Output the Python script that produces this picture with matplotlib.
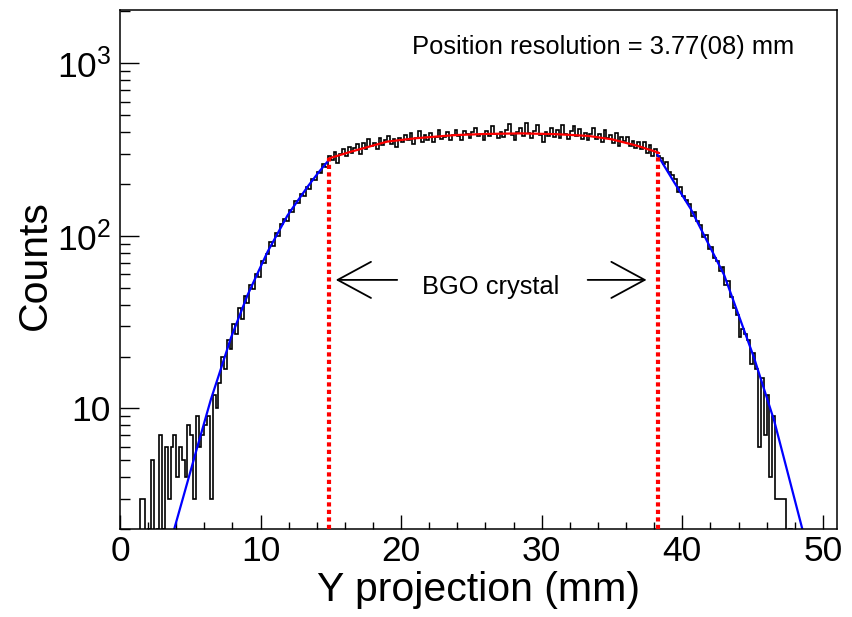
import numpy as np
import matplotlib
matplotlib.use('Agg')
import matplotlib.pyplot as plt
from matplotlib.ticker import FixedLocator, MultipleLocator, NullFormatter

plt.rcParams['font.family'] = ['Liberation Sans', 'DejaVu Sans']
plt.rcParams['mathtext.default'] = 'regular'

# histogram: 0.2 mm bins starting at 0 mm
bin_width = 0.2
x_start = 0.0

# bins 0 - 34 (0 - 7 mm), low statistics tail
tail_left = [0, 0, 0, 0, 0, 0, 1, 3, 3, 1, 2, 5, 1, 2, 7, 2, 6, 3, 6, 7,
             4, 6, 5, 4, 8, 7, 3, 9, 6, 7, 8, 9, 3, 12, 10]
# bins 35 - 74 (7 - 15 mm), rising edge
rise = [14, 20, 17, 25, 22, 31, 27, 38, 33, 45, 41, 52, 49, 60, 58, 72, 70, 79, 92, 88,
        104, 100, 118, 125, 122, 142, 138, 160, 155, 175, 170, 192, 188, 215, 210,
        236, 232, 262, 250, 290]
# bins 75 - 191 (15 - 38.4 mm), crystal plateau
plateau = [276, 306, 266, 297, 321, 290, 328, 301, 322, 341,
           300, 345, 321, 364, 330, 345, 318, 368, 337, 360,
           380, 342, 363, 326, 371, 348, 385, 360, 395, 340,
           370, 404, 350, 385, 362, 396, 352, 376, 410, 365,
           372, 402, 359, 385, 413, 377, 360, 406, 389, 371,
           398, 422, 377, 392, 361, 405, 381, 434, 389, 370,
           398, 374, 413, 445, 386, 359, 403, 422, 382, 452,
           397, 368, 408, 437, 387, 350, 403, 380, 420, 376,
           409, 369, 440, 392, 363, 407, 434, 378, 415, 365,
           397, 359, 389, 420, 367, 390, 348, 411, 369, 383,
           346, 396, 334, 375, 354, 376, 334, 357, 323, 350,
           317, 352, 302, 338, 291, 320, 291]
# bins 192 - 254 (38.4 - 51 mm), falling edge
fall = [282, 262, 270, 236, 225, 214, 180, 192, 170, 162,
        154, 130, 138, 122, 116, 98, 101, 84, 86, 74,
        72, 63, 66, 52, 55, 44, 38, 35, 26, 29,
        27, 25, 18, 21, 17, 6, 15, 7, 12, 4,
        9, 3, 3, 3, 3, 1, 2, 0, 0, 0,
        0, 0, 0, 0, 0, 0, 0, 0, 0, 0, 0, 0, 0]

counts = np.array(tail_left + rise + plateau + fall, dtype=float)
edges = x_start + bin_width * np.arange(len(counts) + 1)

# fitted curves
left_fit_x = [3.86, 4.5, 5.5, 6.47, 7.0, 7.89, 8.5, 9.08, 9.8, 10.5, 11.2, 11.92, 12.6, 13.35, 14.1, 14.9]
left_fit_y = [2.0, 3.06, 5.97, 11.3, 15.3, 25.6, 34.4, 45.5, 61.0, 80.9, 102.8, 131.5, 158, 193, 232, 278]
center_fit_x = [14.9, 16.5, 19.0, 21.0, 23.8, 26.0, 28.5, 31.0, 33.3, 35.0, 36.8, 38.25]
center_fit_y = [282, 309, 352, 368, 384, 390, 393, 389, 380, 363, 333, 305]
right_fit_x = [38.24, 39.4, 40.6, 41.8, 42.98, 44.0, 45.11, 46.54, 47.5, 48.56]
right_fit_y = [295, 206, 143.5, 92, 59.3, 34.9, 19.6, 8.47, 4.24, 1.97]

crystal_edges = [14.9, 38.25]
resolution_text = 'Position resolution = 3.77(08) mm'

fig = plt.figure(figsize=(8.52, 6.17), dpi=100)
ax = fig.add_axes([0.1408, 0.1426, 0.8415, 0.8412])

ax.stairs(np.clip(counts, 0.5, None), edges, color='black', lw=1.2, baseline=None)
ax.plot(left_fit_x, left_fit_y, color='blue', lw=1.6)
ax.plot(right_fit_x, right_fit_y, color='blue', lw=1.6)
ax.plot(center_fit_x, center_fit_y, color='red', lw=1.6)
ax.vlines(crystal_edges, 2, [center_fit_y[0], center_fit_y[-1]], colors='red',
          lw=3, linestyles=(0, (1.0, 0.8)), zorder=4)

# crystal annotation
arrow_style = dict(arrowstyle='->,head_length=1.2,head_width=0.65', lw=1.3,
                   color='black', shrinkA=0, shrinkB=0, mutation_scale=20)
ax.annotate('', xy=(15.35, 55.6), xytext=(19.72, 55.6), arrowprops=arrow_style)
ax.annotate('', xy=(37.46, 55.6), xytext=(33.27, 55.6), arrowprops=arrow_style)
ax.text(26.35, 46.1, 'BGO crystal', ha='center', va='baseline', fontsize=18.4)
ax.text(0.4068, 0.9146, resolution_text, transform=ax.transAxes,
        ha='left', va='baseline', fontsize=18.4)

ax.set_yscale('log')
ax.set_xlim(0, 51)
ax.set_ylim(2, 2040)

ax.xaxis.set_major_locator(MultipleLocator(10))
ax.xaxis.set_minor_locator(MultipleLocator(2))
ax.yaxis.set_major_locator(FixedLocator([10, 100, 1000]))
ax.set_yticklabels(['10', '10$^{2}$', '10$^{3}$'])
minor_y = [m * 10 ** k for k in range(0, 4) for m in range(2, 10)]
ax.yaxis.set_minor_locator(FixedLocator(minor_y))
ax.yaxis.set_minor_formatter(NullFormatter())

ax.tick_params(axis='both', which='both', direction='in', top=False, right=False,
               width=1.0, labelsize=25.5)
ax.tick_params(axis='x', which='major', length=10, pad=4)
ax.tick_params(axis='x', which='minor', length=5)
ax.tick_params(axis='y', which='major', length=14, pad=6.5)
ax.tick_params(axis='y', which='minor', length=7)
for sp in ax.spines.values():
    sp.set_linewidth(1.1)

ax.set_xlabel('Y projection (mm)', fontsize=29.5)
ax.set_ylabel('Counts', fontsize=29.5)
ax.xaxis.set_label_coords(0.5, -0.081)
ax.yaxis.set_label_coords(-0.092, 0.509)

fig.savefig('out.png', dpi=100)
